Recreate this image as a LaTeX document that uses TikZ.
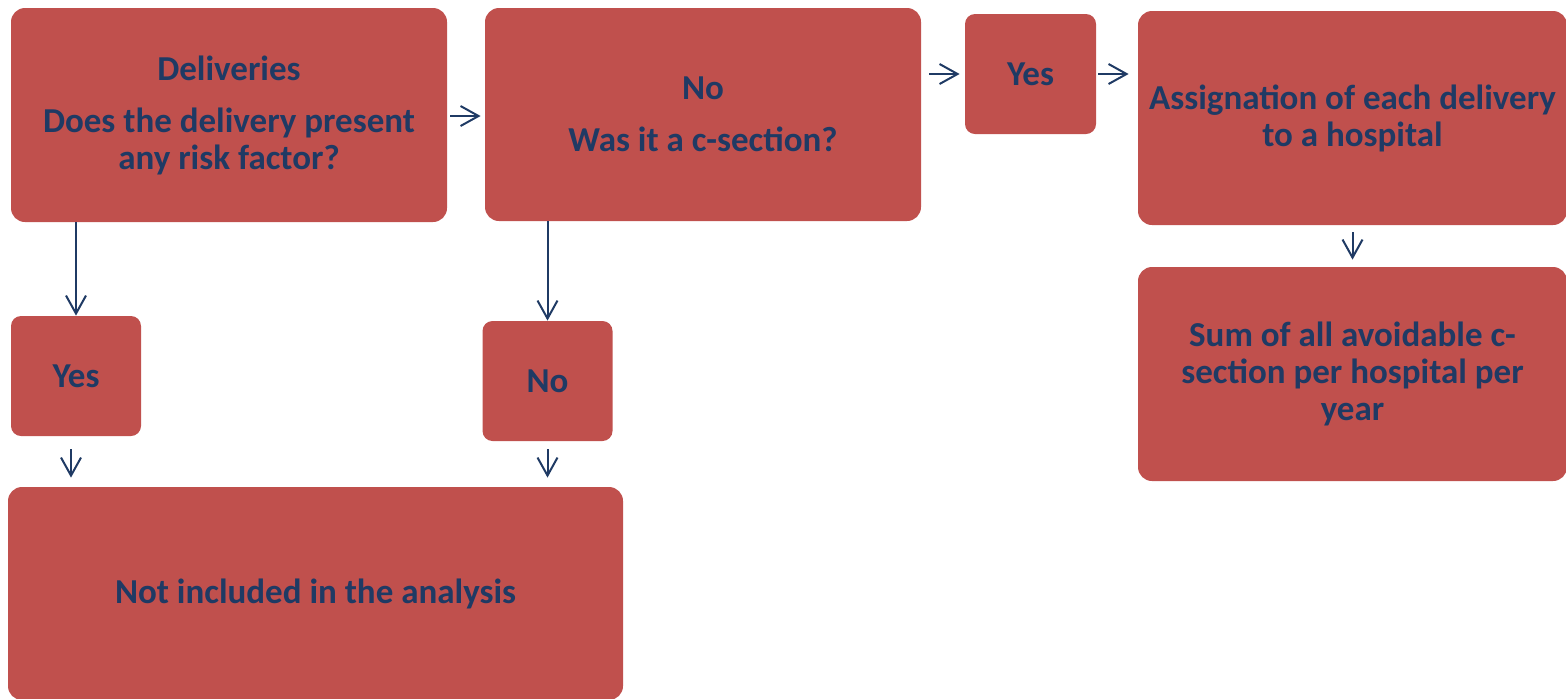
\documentclass[tikz,border=0pt]{standalone}
\usepackage{fontspec}
\setmainfont{Carlito}
\usetikzlibrary{arrows.meta}
\definecolor{boxred}{HTML}{C0504D}
\definecolor{navy}{HTML}{1F3A64}
\tikzset{
  bigbox/.style={draw=none, fill=boxred, rounded corners=7pt, inner sep=0pt,
    align=center, text=navy, font=\bfseries\fontsize{17.5}{18.5}\selectfont},
  smallbox/.style={bigbox, rounded corners=5pt},
  arr/.style={draw=navy, line width=1pt, -{Straight Barb[length=9pt,width=10pt,line width=1pt]}},
}
\begin{document}
\begin{tikzpicture}[x=0.5pt,y=-0.5pt]
\useasboundingbox (0,0) rectangle (1566,698);
\node[bigbox, minimum width=218pt, minimum height=107pt] (b1) at (229,115)
  {Deliveries\\[7.5pt]Does the delivery present\\any risk factor?};
\node[bigbox, minimum width=218pt, minimum height=106.5pt] (b2) at (703,114.5)
  {No\\[7.5pt]Was it a c-section?};
\node[smallbox, minimum width=65.5pt, minimum height=60pt] (y3) at (1030.5,74) {Yes};
\node[bigbox, minimum width=214.5pt, minimum height=107pt] (b4) at (1352.5,118)
  {Assignation of each delivery\\to a hospital};
\node[bigbox, minimum width=214.5pt, minimum height=107pt] (b5) at (1352.5,374)
  {Sum of all avoidable c-\\section per hospital per\\year};
\node[smallbox, minimum width=65pt, minimum height=60pt] (y6) at (76,376) {Yes};
\node[smallbox, minimum width=65pt, minimum height=60pt] (n7) at (547.5,381) {No};
\node[bigbox, minimum width=307.5pt, minimum height=106.5pt] (b8) at (315.5,593.5)
  {Not included in the analysis};
% connectors
\draw[arr, shorten <=1.5pt, shorten >=2pt] ([yshift=-0.5pt]b1.east) -- ([yshift=-0.5pt]b1.east -| b2.west);
\draw[arr, shorten <=4pt, shorten >=2.5pt] (b2.east |- y3.west) -- (y3.west);
\draw[arr, shorten <=1pt, shorten >=4.5pt] (y3.east) -- (y3.east -| b4.west);
\draw[arr] (b1.south -| y6.north) -- (y6.north);
\draw[arr] (b2.south -| n7.north) -- (n7.north);
\draw[arr, shorten <=3.5pt, shorten >=3.5pt] (b4.south) -- (b5.north);
\draw[arr, shorten <=6.5pt, shorten >=4.5pt] ([xshift=-2.5pt]y6.south) -- ([xshift=-2.5pt]y6.south |- b8.north);
\draw[arr, shorten <=4pt, shorten >=4.5pt] (n7.south) -- (n7.south |- b8.north);
\end{tikzpicture}
\end{document}
